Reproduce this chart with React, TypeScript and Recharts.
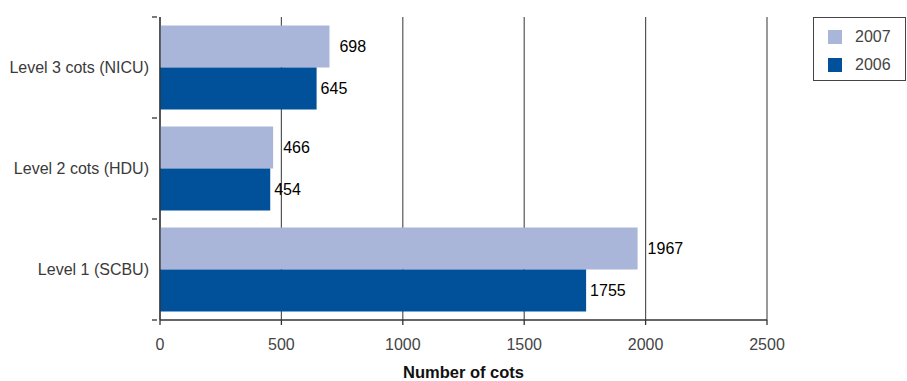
import React from "react";
import { BarChart, Bar, XAxis, YAxis, CartesianGrid, LabelList } from "recharts";

const categories = ["Level 3 cots (NICU)", "Level 2 cots (HDU)", "Level 1 (SCBU)"];
const values2007 = [698, 466, 1967];
const values2006 = [645, 454, 1755];
const xTicks = [0, 500, 1000, 1500, 2000, 2500];
const seriesNames = ["2007", "2006"];
const colors = ["#A9B6DA", "#00519A"];

const data = categories.map((c, i) => ({ name: c, y2007: values2007[i], y2006: values2006[i] }));

const FONT = "'Liberation Sans', Arial, Helvetica, sans-serif";

const YTick = (props: any) => {
  const { x, y, payload, index } = props;
  const half = payload.offset || 0;
  const ax = x + 5; // axis line position
  return (
    <g>
      <line x1={ax - 5} x2={ax} y1={y - half} y2={y - half} stroke="#333" strokeWidth={1.3} />
      {index === categories.length - 1 && (
        <line x1={ax - 5} x2={ax} y1={y + half} y2={y + half} stroke="#333" strokeWidth={1.3} />
      )}
      <text x={ax - 8} y={y} dy="0.35em" textAnchor="end" fill="#3a3a3a" fontSize={16} fontFamily={FONT}>
        {payload.value}
      </text>
    </g>
  );
};

const LegendBox = () => (
  <div
    style={{
      position: "absolute",
      left: 813,
      top: 17,
      border: "1.5px solid #444",
      width: 93,
      height: 64,
      boxSizing: "border-box",
      background: "#fff",
      fontFamily: FONT,
      fontSize: 16,
      color: "#444",
      paddingTop: 5,
    }}
  >
    {seriesNames.map((n, i) => (
      <div key={n} style={{ display: "flex", alignItems: "center", height: 28 }}>
        <div style={{ width: 14, height: 14, background: colors[i], marginLeft: 14, marginRight: 13 }} />
        <span>{n}</span>
      </div>
    ))}
  </div>
);

export default function App() {
  return (
    <div style={{ position: "absolute", left: 0, top: 0, width: 907, height: 381, background: "#fff" }}>
      <BarChart
        width={907}
        height={381}
        data={data}
        layout="vertical"
        margin={{ top: 17, right: 140, bottom: 0, left: 0 }}
        barCategoryGap="8.4%"
        barGap={0}
      >
        <CartesianGrid horizontal={false} stroke="#555" strokeWidth={1.2} />
        <XAxis
          type="number"
          domain={[0, 2500]}
          ticks={xTicks}
          height={61}
          tickSize={5}
          tickMargin={14}
          axisLine={{ stroke: "#333", strokeWidth: 1.3 }}
          tickLine={{ stroke: "#333", strokeWidth: 1.3 }}
          tick={{ fill: "#444", fontSize: 16, fontFamily: FONT }}
          label={{
            value: "Number of cots",
            position: "insideBottom",
            offset: 0,
            dy: -3,
            fill: "#111",
            fontSize: 16.5,
            fontWeight: "bold",
            fontFamily: FONT,
          }}
        />
        <YAxis
          type="category"
          dataKey="name"
          width={160}
          tickLine={false}
          axisLine={{ stroke: "#333", strokeWidth: 1.3 }}
          tick={<YTick />}
          interval={0}
        />
        <Bar dataKey="y2007" name={seriesNames[0]} fill={colors[0]} isAnimationActive={false}>
          <LabelList dataKey="y2007" position="right" offset={10} fill="#000" fontSize={16} fontFamily={FONT} />
        </Bar>
        <Bar dataKey="y2006" name={seriesNames[1]} fill={colors[1]} isAnimationActive={false}>
          <LabelList dataKey="y2006" position="right" offset={4} fill="#000" fontSize={16} fontFamily={FONT} />
        </Bar>
      </BarChart>
      <LegendBox />
    </div>
  );
}
